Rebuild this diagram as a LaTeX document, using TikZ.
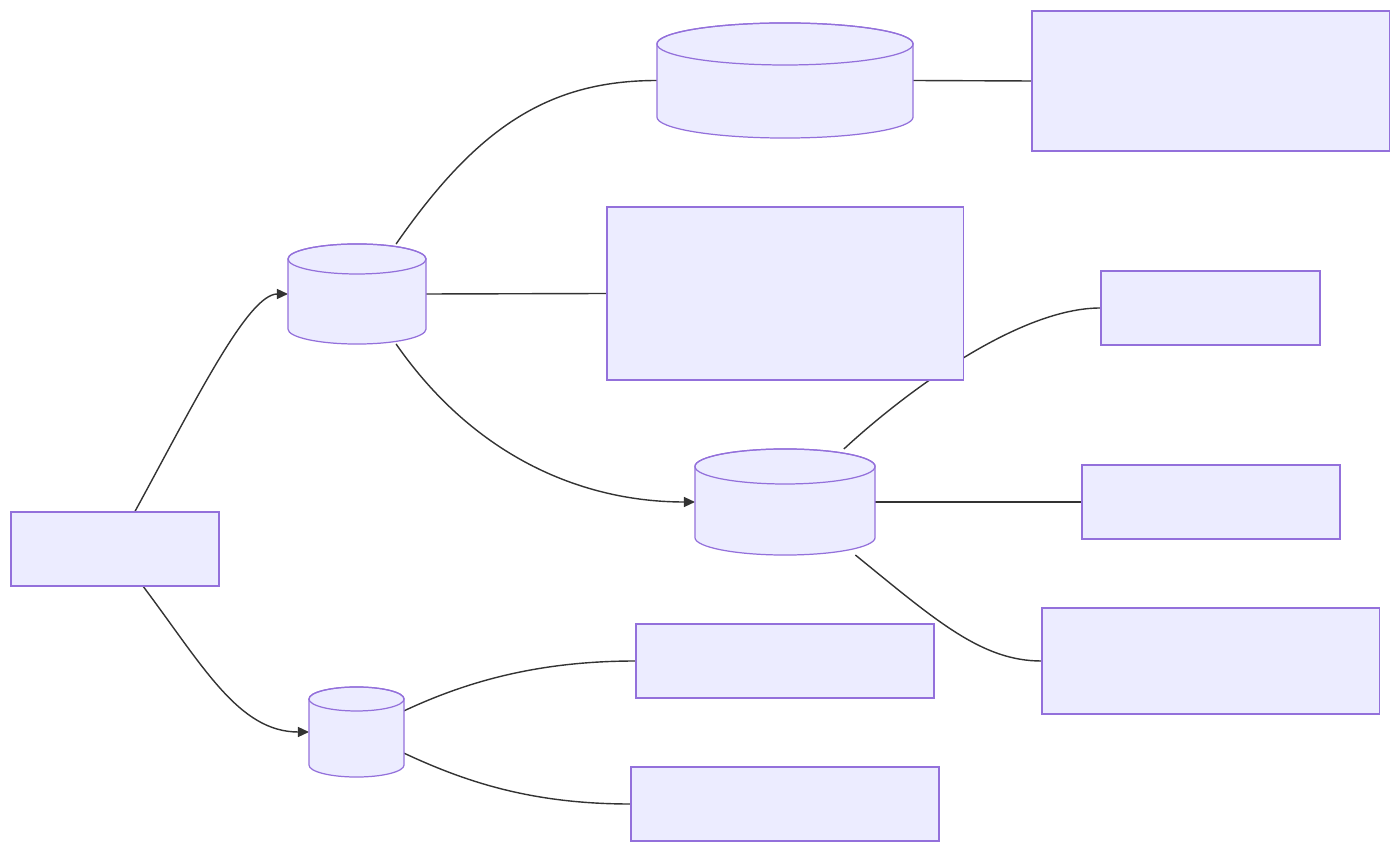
\documentclass[tikz,border=0pt]{standalone}
\usepackage{tikz}
\usetikzlibrary{arrows.meta, backgrounds, positioning}

\definecolor{boxfill}{HTML}{ECECFF}
\definecolor{boxline}{HTML}{9370DB}
\definecolor{edgeline}{HTML}{333333}

% cylinder drawn round an empty node: node, half width, cap radius
\newcommand{\drum}[3]{%
  \filldraw[draw=boxline, fill=boxfill, line width=0.35pt]
    ([yshift=-#3]#1.north west) -- ([yshift=#3]#1.south west)
    arc[start angle=180, end angle=360, x radius=#2, y radius=#3]
    -- ([yshift=-#3]#1.north east)
    arc[start angle=0, end angle=180, x radius=#2, y radius=#3] -- cycle;
  \draw[boxline, line width=0.35pt] ([yshift=-#3]#1.north) ellipse[x radius=#2, y radius=#3];
}

\begin{document}
\begin{tikzpicture}[x=0.01cm, y=-0.01cm, >={Triangle[length=0.11cm, width=0.1cm]}]
  \tikzstyle{box}=[draw=boxline, fill=boxfill, line width=0.35pt, inner sep=0pt]
  \tikzstyle{drumbox}=[inner sep=0pt, outer sep=0pt]
  \tikzstyle{link}=[draw=edgeline, line width=0.4pt]

  \useasboundingbox (0,0) rectangle (1400,852);

  \node[box, minimum width=2.08cm, minimum height=0.74cm]    (root) at (115,549)    {};
  \node[drumbox, minimum width=1.38cm, minimum height=1.00cm] (dbA)  at (357,294)    {};
  \node[drumbox, minimum width=2.56cm, minimum height=1.15cm] (dbB)  at (785,80.5)   {};
  \node[drumbox, minimum width=1.80cm, minimum height=1.06cm] (dbC)  at (785,502)    {};
  \node[drumbox, minimum width=0.95cm, minimum height=0.90cm] (dbD)  at (356.5,732)  {};
  \node[box, minimum width=3.57cm, minimum height=1.40cm]    (boxB) at (1210.5,81)  {};
  \node[box, minimum width=3.56cm, minimum height=1.73cm]    (boxA) at (785,293.5)  {};
  \node[box, minimum width=2.19cm, minimum height=0.74cm]    (boxC1) at (1210.5,308) {};
  \node[box, minimum width=2.58cm, minimum height=0.74cm]    (boxC2) at (1211,502)   {};
  \node[box, minimum width=3.37cm, minimum height=1.06cm]    (boxC3) at (1210.5,661) {};
  \node[box, minimum width=2.98cm, minimum height=0.74cm]    (boxD1) at (785,661)    {};
  \node[box, minimum width=3.08cm, minimum height=0.74cm]    (boxD2) at (785,804)    {};

  \drum{dbA}{0.69cm}{0.15cm}
  \drum{dbB}{1.28cm}{0.21cm}
  \drum{dbC}{0.90cm}{0.175cm}
  \drum{dbD}{0.475cm}{0.12cm}

  \begin{scope}[on background layer]
    \draw[link, ->] (root.62)  .. controls +(60,-110) and +(-40,0) .. (dbA.west);
    \draw[link, ->] (root.-53) .. controls +(60,80)   and +(-70,0) .. (dbD.west);
    \draw[link]     (dbA.52)   .. controls +(80,-115) and +(-110,0) .. (dbB.west);
    \draw[link, ->] (dbA.-52)  .. controls +(80,115)  and +(-110,0) .. (dbC.west);
    \draw[link]     (dbA.east) -- (boxA.west);
    \draw[link]     (dbB.east) -- (boxB.west);
    \draw[link]     (dbC.42)   .. controls +(65,-60)  and +(-80,0) .. (boxC1.west);
    \draw[link]     (dbC.east) -- (boxC2.west);
    \draw[link]     (dbC.-37)  .. controls +(80,65)   and +(-60,0) .. (boxC3.west);
    \draw[link]     (dbD.24)   .. controls +(60,-28)  and +(-100,0) .. (boxD1.west);
    \draw[link]     (dbD.-24)  .. controls +(60,28)   and +(-100,0) .. (boxD2.west);
  \end{scope}
\end{tikzpicture}
\end{document}
